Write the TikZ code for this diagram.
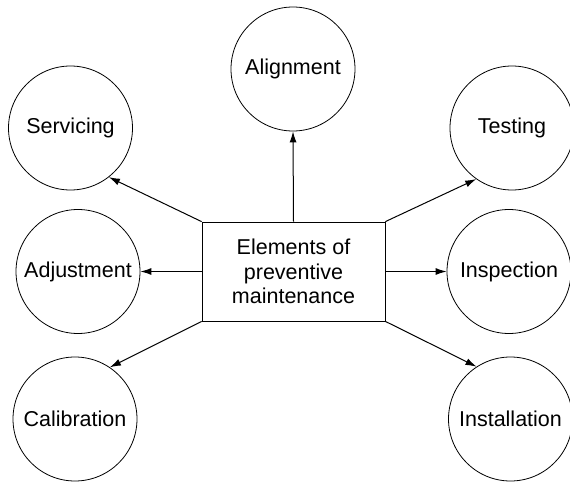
\documentclass[tikz,border=0pt]{standalone}
\usepackage{fontspec}
\setmainfont{Liberation Sans}
\usepackage{tikz}
\usetikzlibrary{arrows.meta}
\tikzset{elemcircle/.style={draw,circle,minimum size=124pt,inner sep=0pt,line width=0.8pt},
         elembox/.style={draw,rectangle,minimum width=183pt,minimum height=99pt,
                         align=center,line width=0.8pt},
         conn/.style={-{Latex[length=11pt,width=7pt]},line width=1pt}}

\begin{document}
\begin{tikzpicture}[x=1pt,y=1pt,font=\fontsize{21.5}{24.5}\selectfont]
\useasboundingbox (0,0) rectangle (570,483);
\node[elembox] (elem) at (293.5,211.5) {Elements of\\preventive\\maintenance};
\node[elemcircle] (align) at (293,414) {Alignment};
\node[elemcircle] (serv) at (70.5,355) {Servicing};
\node[elemcircle] (test) at (512,355) {Testing};
\node[elemcircle] (adj) at (78,211.5) {Adjustment};
\node[elemcircle] (insp) at (509,211.5) {Inspection};
\node[elemcircle] (calib) at (75,64) {Calibration};
\node[elemcircle] (inst) at (510.5,64) {Installation};
\draw[conn] (elem.north)--(align.south);
\draw[conn] (elem.north west)--(serv.-52);
\draw[conn] (elem.north east)--(test.-125);
\draw[conn] (elem.west)--(adj.east);
\draw[conn] (elem.east)--(insp.west);
\draw[conn] (elem.south west)--(calib.56);
\draw[conn] (elem.south east)--(inst.123);
\end{tikzpicture}
\end{document}
